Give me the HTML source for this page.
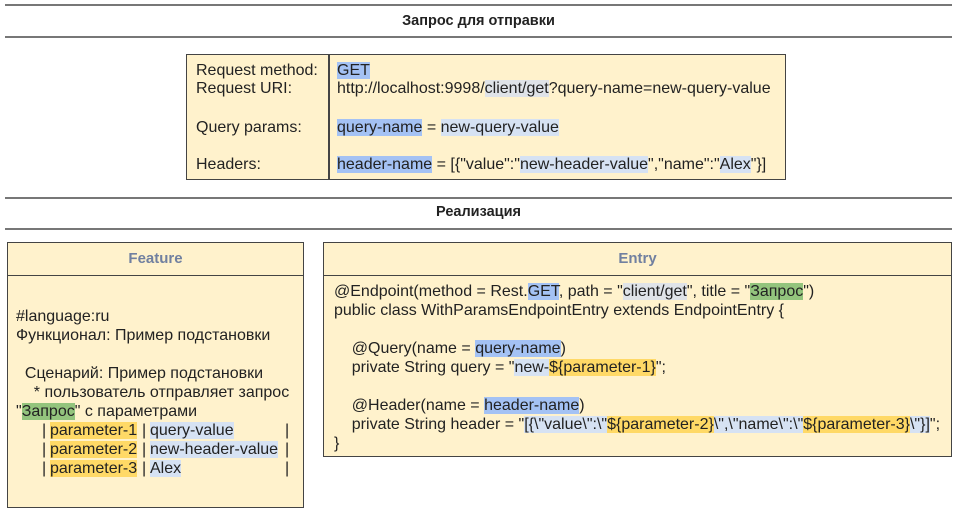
<!DOCTYPE html>
<html><head><meta charset="utf-8"><style>
body{margin:0;width:957px;height:514px;background:#fff;position:relative;font-family:"Liberation Sans",Arial,sans-serif;font-size:16px;color:#222;overflow:hidden}
.hl{position:absolute;left:5px;width:947px;height:2px;background:#777}
.t{position:absolute;left:0;width:957px;text-align:center;font-weight:bold;font-size:14.5px}
.box{position:absolute;background:#fff2cc;border:1.5px solid #444;box-sizing:border-box}
.l{position:absolute;white-space:pre;line-height:19px}
.b{background:#a4c2f4}.c{background:#d6e2f3}.g{background:#dfe3e8}.o{background:#ffd966}.gr{background:#93c47d}
.hd{position:absolute;left:0;right:0;top:0;height:32px;border-bottom:1.5px solid #444;text-align:center;line-height:32px;font-weight:bold;color:#7180a0;font-size:15px}
</style></head><body>
<div class="hl" style="top:4px"></div>
<div class="t" style="top:13px">Запрос для отправки</div>
<div class="hl" style="top:36px"></div>
<div class="box" style="left:186px;top:54px;width:600px;height:126px">
 <div style="position:absolute;left:141px;top:0;bottom:0;width:1.5px;background:#444"></div>
 <div class="l" style="left:9px;top:6px">Request method:</div>
 <div class="l" style="left:9px;top:24px">Request URI:</div>
 <div class="l" style="left:9px;top:63px">Query params:</div>
 <div class="l" style="left:9px;top:100px">Headers:</div>
 <div class="l" style="left:150px;top:6px"><span class="b">GET</span></div>
 <div class="l" style="left:150px;top:24px">http://localhost:9998/<span class="g">client/get</span>?query-name=new-query-value</div>
 <div class="l" style="left:150px;top:63px"><span class="b">query-name</span> = <span class="c">new-query-value</span></div>
 <div class="l" style="left:150px;top:100px"><span class="b">header-name</span> = [{"value":"<span class="c">new-header-value</span>","name":"<span class="c">Alex</span>"}]</div>
</div>
<div class="hl" style="top:197px"></div>
<div class="t" style="top:204px">Реализация</div>
<div class="hl" style="top:228px"></div>
<div class="box" style="left:7px;top:242px;width:297px;height:266px">
 <div class="hd">Feature</div>
 <div class="l" style="left:8px;top:64px">#language:ru
Функционал: Пример подстановки

  Сценарий: Пример подстановки
    * пользователь отправляет запрос
"<span class="gr">Запрос</span>" с параметрами</div>
 <div class="l" style="left:34px;top:178px">|
|
|</div>
 <div class="l" style="left:42px;top:178px"><span class="o">parameter-1</span>
<span class="o">parameter-2</span>
<span class="o">parameter-3</span></div>
 <div class="l" style="left:134px;top:178px">|
|
|</div>
 <div class="l" style="left:142px;top:178px"><span class="c">query-value</span>
<span class="c">new-header-value</span>
<span class="c">Alex</span></div>
 <div class="l" style="left:277px;top:178px">|
|
|</div>
</div>
<div class="box" style="left:323px;top:242px;width:629px;height:215px">
 <div class="hd">Entry</div>
 <div class="l" style="left:10px;top:39px">@Endpoint(method = Rest.<span class="b">GET</span>, path = "<span class="g">client/get</span>", title = "<span class="gr">Запрос</span>")
public class WithParamsEndpointEntry extends EndpointEntry {

    @Query(name = <span class="b">query-name</span>)
    private String query = "<span class="c">new-</span><span class="o">${parameter-1}</span>";

    @Header(name = <span class="b">header-name</span>)
    private String header = "<span class="c">[{\"value\":\"</span><span class="o">${parameter-2}</span><span class="c">\",\"name\":\"</span><span class="o">${parameter-3}</span><span class="c">\"}]</span>";
}</div>
</div>
</body></html>
